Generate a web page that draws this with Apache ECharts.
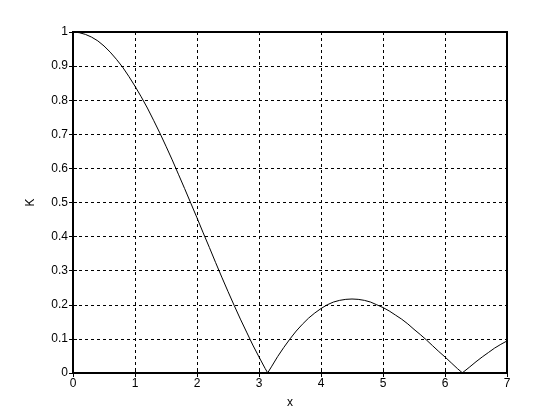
<!DOCTYPE html>
<html><head><meta charset="utf-8">
<script src="https://cdn.jsdelivr.net/npm/echarts@6/dist/echarts.min.js"></script>
<style>html,body{margin:0;padding:0;background:#fff}#c{width:560px;height:420px}</style>
</head><body><div id="c"></div>
<script>
const xValues = [0,0.1,0.2,0.3,0.4,0.5,0.6,0.7,0.8,0.9,1.0,1.1,1.2,1.3,1.4,1.5,1.6,1.7,1.8,1.9,2.0,2.1,2.2,2.3,2.4,2.5,2.6,2.7,2.8,2.9,3.0,3.1,3.14,3.2,3.3,3.4,3.5,3.6,3.7,3.8,3.9,4.0,4.1,4.2,4.3,4.4,4.5,4.6,4.7,4.8,4.9,5.0,5.1,5.2,5.3,5.4,5.5,5.6,5.7,5.8,5.9,6.0,6.1,6.2,6.28,6.3,6.4,6.5,6.6,6.7,6.8,6.9,7.0];
const kValues = [1.0,0.998,0.993,0.985,0.974,0.959,0.941,0.920,0.897,0.870,0.841,0.810,0.777,0.741,0.704,0.665,0.625,0.583,0.541,0.498,0.455,0.411,0.368,0.324,0.281,0.239,0.198,0.158,0.120,0.082,0.047,0.013,0.0005,0.018,0.048,0.075,0.100,0.123,0.143,0.161,0.176,0.189,0.200,0.208,0.213,0.216,0.217,0.216,0.213,0.208,0.200,0.192,0.182,0.170,0.158,0.144,0.128,0.113,0.097,0.080,0.063,0.047,0.030,0.013,0.0005,0.003,0.018,0.033,0.047,0.060,0.073,0.084,0.094];
const xTicks = [0,1,2,3,4,5,6,7];
const yTicks = [0,0.1,0.2,0.3,0.4,0.5,0.6,0.7,0.8,0.9,1];

const font = 'Liberation Sans, Arial, sans-serif';
const chart = echarts.init(document.getElementById('c'), null, {renderer:'canvas'});
const dash = {show:true, lineStyle:{color:'#000', width:1, type:[3,3]}};
chart.setOption({
  animation:false,
  backgroundColor:'#fff',
  grid:{left:73, right:53, top:32, bottom:47, show:true, borderColor:'#000', borderWidth:2, backgroundColor:'transparent'},
  xAxis:[{
    type:'value', min:xTicks[0], max:xTicks[xTicks.length-1], interval:1,
    name:'x', nameLocation:'middle', nameGap:24,
    nameTextStyle:{color:'#000', fontFamily:font, fontSize:12},
    axisLine:{show:false}, axisTick:{show:true, inside:true, length:4, lineStyle:{color:'#000', width:1}},
    axisLabel:{color:'#000', fontFamily:font, fontSize:12, margin:5},
    splitLine:dash
  },{
    type:'value', position:'top', min:xTicks[0], max:xTicks[xTicks.length-1], interval:1,
    axisLine:{show:false}, axisTick:{show:true, inside:true, length:4, lineStyle:{color:'#000'}},
    axisLabel:{show:false}, splitLine:{show:false}
  }],
  yAxis:[{
    type:'value', min:yTicks[0], max:yTicks[yTicks.length-1], interval:0.1,
    name:'K', nameLocation:'middle', nameGap:36, nameRotate:90,
    nameTextStyle:{color:'#000', fontFamily:font, fontSize:12},
    axisLine:{show:false}, axisTick:{show:true, inside:true, length:4, lineStyle:{color:'#000'}},
    axisLabel:{color:'#000', fontFamily:font, fontSize:12, margin:5,
      formatter:v=>String(Math.round(v*10)/10)},
    splitLine:dash
  },{
    type:'value', position:'right', min:yTicks[0], max:yTicks[yTicks.length-1], interval:0.1,
    axisLine:{show:false}, axisTick:{show:true, inside:true, length:4, lineStyle:{color:'#000'}},
    axisLabel:{show:false}, splitLine:{show:false}
  }],
  series:[{
    type:'line', xAxisIndex:0, yAxisIndex:0, showSymbol:false, symbol:'none',
    data:xValues.map((x,i)=>[x,kValues[i]]),
    lineStyle:{color:'#000', width:1}, z:5
  }]
});
</script></body></html>
